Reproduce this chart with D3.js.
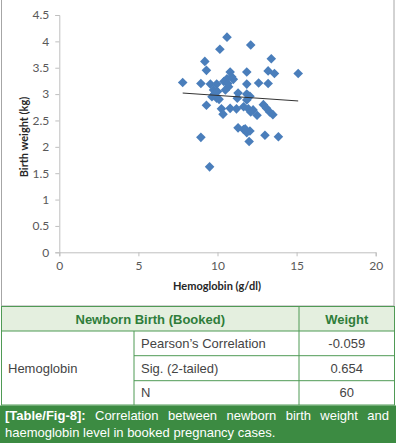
<!DOCTYPE html>
<html>
<head>
<meta charset="utf-8">
<script src="https://cdn.jsdelivr.net/npm/d3@7"></script>
<style>
  body { margin: 0; background: #fff; }
  svg text { font-family: "Liberation Sans", Arial, sans-serif; }
</style>
</head>
<body>
<svg width="396" height="443"></svg>
<script>
// hemoglobin (g/dl) vs birth weight (kg)
var hemoglobin = [7.8, 8.95, 9.2, 9.3, 9.55, 9.95, 9.75, 9.65, 9.95, 10.1,
                  9.3, 8.95, 9.5, 10.15, 10.6, 12.1, 10.8, 10.9, 11.0, 10.6,
                  10.4, 10.7, 10.5, 11.85, 11.85, 12.6, 13.2, 13.6, 13.2, 13.4,
                  15.1, 11.3, 11.25, 11.85, 12.05, 11.85, 10.25, 10.35, 10.8, 11.2,
                  11.65, 11.95, 12.25, 12.5, 12.9, 13.1, 13.3, 13.5, 11.3, 11.65,
                  11.85, 12.0, 13.0, 13.85, 12.05, 9.8, 10.0, 11.75, 12.1, 10.65];
var birthWeight = [3.22, 3.2, 3.62, 3.45, 3.19, 3.19, 3.08, 2.95, 2.92, 2.9,
                   2.79, 2.18, 1.62, 3.85, 4.08, 3.93, 3.42, 3.33, 3.28, 3.29,
                   3.24, 3.14, 3.08, 3.42, 3.19, 3.21, 3.44, 3.39, 3.2, 3.67,
                   3.39, 3.02, 2.92, 3.0, 2.96, 2.89, 2.72, 2.62, 2.73, 2.72,
                   2.76, 2.72, 2.7, 2.6, 2.8, 2.73, 2.66, 2.61, 2.36, 2.33,
                   2.27, 2.1, 2.22, 2.19, 2.3, 3.0, 3.05, 2.34, 2.66, 3.2];
// linear trend line ends
var trendX = [7.8, 15.1];
var trendY = [3.02, 2.87];

var xTicks = [0, 5, 10, 15, 20];
var yTicks = [0, 0.5, 1, 1.5, 2, 2.5, 3, 3.5, 4, 4.5];

// table
var tableHead = ["Newborn Birth (Booked)", "Weight"];
var rowGroup = "Hemoglobin";
var statNames = ["Pearson\u2019s Correlation", "Sig. (2-tailed)", "N"];
var statValues = ["-0.059", "0.654", "60"];
var captionTag = "[Table/Fig-8]:";
var captionLine1 = "Correlation between newborn birth weight and";
var captionLine2 = "haemoglobin level in booked pregnancy cases.";

var svg = d3.select("svg");

// chart frame
svg.append("rect")
    .attr("x", 1.5).attr("y", -1)
    .attr("width", 392.5).attr("height", 307)
    .attr("fill", "none").attr("stroke", "#a6a6a6");

var x = d3.scaleLinear().domain([0, 20]).range([59.3, 375.7]);
var y = d3.scaleLinear().domain([0, 4.5]).range([252.3, 15]);

var chartFont = "Lato, 'Liberation Sans', sans-serif";

var gx = svg.append("g")
    .attr("transform", "translate(0," + y(0) + ")")
    .call(d3.axisBottom(x).tickValues(xTicks).tickSize(4).tickPadding(5));
var gy = svg.append("g")
    .attr("transform", "translate(" + x(0) + ",0)")
    .call(d3.axisLeft(y).tickValues(yTicks).tickSize(4).tickPadding(6)
          .tickFormat(d3.format("")));
[gx, gy].forEach(function(g) {
  g.select(".domain").attr("stroke", "#bfbfbf");
  g.selectAll(".tick line").attr("stroke", "#bfbfbf");
  g.selectAll(".tick text")
    .attr("fill", "#595959")
    .style("font-family", chartFont)
    .style("font-size", "12px");
});

svg.append("text")
    .attr("x", 217).attr("y", 290)
    .attr("text-anchor", "middle")
    .style("font-family", chartFont)
    .style("font-size", "11px").style("font-weight", "bold")
    .attr("fill", "#262626")
    .text("Hemoglobin (g/dl)");

svg.append("text")
    .attr("transform", "translate(28,137) rotate(-90)")
    .attr("text-anchor", "middle")
    .style("font-family", chartFont)
    .style("font-size", "11px").style("font-weight", "bold")
    .attr("fill", "#262626")
    .text("Birth weight (kg)");

// points as diamonds
var pts = hemoglobin.map(function(h, i) { return {x: h, y: birthWeight[i]}; });
var diamond = d3.symbol().type(d3.symbolSquare).size(46);
svg.selectAll(".dot")
    .data(pts)
    .enter().append("path")
    .attr("class", "dot")
    .attr("d", diamond)
    .attr("transform", function(d) {
      return "translate(" + x(d.x) + "," + y(d.y) + ") rotate(45)";
    })
    .attr("fill", "#4a7ebb");

// trend line
svg.append("line")
    .attr("x1", x(trendX[0])).attr("y1", y(trendY[0]))
    .attr("x2", x(trendX[1])).attr("y2", y(trendY[1]))
    .attr("stroke", "#333").attr("stroke-width", 1);

// ---- table ----
var green = "#4f9a55", dark = "#2f7d3a", textGray = "#444";
var tx = [1.5, 134, 299, 394.5];
var ty = [306.5, 331, 355.7, 380.7, 405];

svg.append("rect")
    .attr("x", tx[0]).attr("y", ty[0])
    .attr("width", tx[3] - tx[0]).attr("height", ty[1] - ty[0])
    .attr("fill", "#e4efdf");

var lines = svg.append("g").attr("stroke", green).attr("stroke-width", 1);
lines.append("rect")
    .attr("x", tx[0]).attr("y", ty[0])
    .attr("width", tx[3] - tx[0]).attr("height", ty[4] - ty[0])
    .attr("fill", "none");
lines.append("line").attr("x1", tx[0]).attr("x2", tx[3]).attr("y1", ty[1]).attr("y2", ty[1]);
[2, 3].forEach(function(i) {
  lines.append("line").attr("x1", tx[1]).attr("x2", tx[3]).attr("y1", ty[i]).attr("y2", ty[i]);
});
lines.append("line").attr("x1", tx[1]).attr("x2", tx[1]).attr("y1", ty[1]).attr("y2", ty[4]);
lines.append("line").attr("x1", tx[2]).attr("x2", tx[2]).attr("y1", ty[0]).attr("y2", ty[4]);

svg.append("text")
    .attr("x", (tx[0] + tx[2]) / 2).attr("y", 323.5)
    .attr("text-anchor", "middle")
    .style("font-size", "13px").style("font-weight", "bold")
    .attr("fill", dark).text(tableHead[0]);
svg.append("text")
    .attr("x", (tx[2] + tx[3]) / 2).attr("y", 323.5)
    .attr("text-anchor", "middle")
    .style("font-size", "13px").style("font-weight", "bold")
    .attr("fill", dark).text(tableHead[1]);

svg.append("text")
    .attr("x", 8).attr("y", 372.5)
    .style("font-size", "13px")
    .attr("fill", textGray).text(rowGroup);

statNames.forEach(function(s, i) {
  var base = (ty[i + 1] + ty[i + 2]) / 2 + 4.5;
  svg.append("text")
      .attr("x", tx[1] + 7).attr("y", base)
      .style("font-size", "13px")
      .attr("fill", textGray).text(s);
  svg.append("text")
      .attr("x", (tx[2] + tx[3]) / 2).attr("y", base)
      .attr("text-anchor", "middle")
      .style("font-size", "13px")
      .attr("fill", textGray).text(statValues[i]);
});

// ---- caption ----
svg.append("rect")
    .attr("x", 0).attr("y", 405.5)
    .attr("width", 396).attr("height", 38)
    .attr("fill", "#3c8b42");

// justify first line
var left = 5, right = 389, base1 = 420;
var words = [captionTag].concat(captionLine1.split(" "));
var nodes = words.map(function(w, i) {
  return svg.append("text")
      .attr("y", base1)
      .style("font-size", "13px")
      .style("font-weight", i === 0 ? "bold" : "normal")
      .attr("fill", "#fff")
      .text(w);
});
var widths = nodes.map(function(n) { return n.node().getComputedTextLength(); });
var gap = (right - left - d3.sum(widths)) / (words.length - 1);
var cx = left;
nodes.forEach(function(n, i) {
  n.attr("x", cx);
  cx += widths[i] + gap;
});

svg.append("text")
    .attr("x", left).attr("y", 436.5)
    .style("font-size", "13px")
    .attr("fill", "#fff")
    .text(captionLine2);
</script>
</body>
</html>
